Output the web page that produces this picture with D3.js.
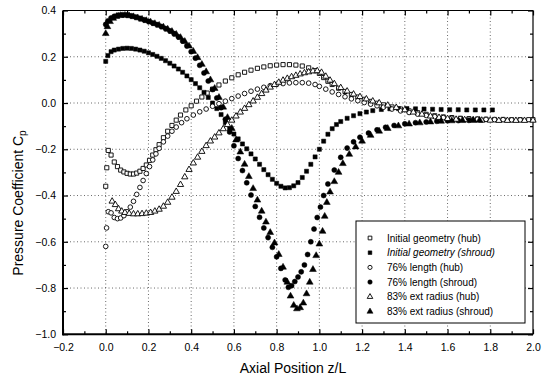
<!DOCTYPE html>
<html>
<head>
<meta charset="utf-8">
<script src="https://cdn.jsdelivr.net/npm/d3@7"></script>
<style>
  body { margin: 0; background: #fff; }
  svg { display: block; font-family: 'Liberation Sans', Arial, sans-serif; }
</style>
</head>
<body>
<div id="chart"></div>
<script>
// values: [z/L, Cp]
const hubInitial = [
  [0.000,-0.36],[0.005,-0.28],[0.012,-0.205],[0.025,-0.225],[0.040,-0.255],[0.055,-0.275],
  [0.070,-0.290],[0.085,-0.298],[0.100,-0.304],[0.115,-0.307],[0.130,-0.307],[0.145,-0.303],
  [0.160,-0.295],[0.175,-0.283],[0.190,-0.268],[0.205,-0.248],[0.220,-0.225],[0.235,-0.202],
  [0.250,-0.180],[0.270,-0.150],[0.290,-0.122],[0.310,-0.097],[0.330,-0.074],[0.350,-0.052],
  [0.375,-0.030],[0.400,-0.012],[0.425,0.008],[0.450,0.026],[0.475,0.043],[0.500,0.060],
  [0.530,0.078],[0.560,0.095],[0.590,0.109],[0.620,0.122],[0.650,0.133],[0.680,0.142],
  [0.710,0.150],[0.740,0.156],[0.770,0.161],[0.800,0.164],[0.830,0.166],[0.860,0.166],
  [0.890,0.164],[0.920,0.160],[0.950,0.152],[0.980,0.140],[1.000,0.128],[1.020,0.110],
  [1.040,0.094],[1.060,0.080],[1.090,0.064],[1.120,0.050],[1.150,0.037],[1.180,0.026],
  [1.210,0.016],[1.240,0.007],[1.270,-0.001],[1.300,-0.008],[1.340,-0.017],[1.380,-0.026],
  [1.420,-0.034],[1.460,-0.042],[1.500,-0.049],[1.540,-0.055],[1.580,-0.060],[1.620,-0.063],
  [1.660,-0.066],[1.700,-0.068],[1.740,-0.069],[1.780,-0.070],[1.820,-0.071],[1.860,-0.071],
  [1.900,-0.072],[1.940,-0.072],[1.980,-0.072],[2.000,-0.072]
];
const shroudInitial = [
  [0.000,0.180],[0.010,0.205],[0.025,0.222],[0.040,0.229],[0.060,0.233],[0.080,0.236],
  [0.100,0.237],[0.120,0.236],[0.140,0.233],[0.160,0.229],[0.180,0.224],[0.200,0.217],
  [0.220,0.210],[0.240,0.202],[0.260,0.193],[0.280,0.183],[0.300,0.172],[0.320,0.160],
  [0.340,0.147],[0.360,0.133],[0.380,0.117],[0.400,0.101],[0.420,0.084],[0.440,0.066],
  [0.460,0.046],[0.480,0.024],[0.500,0.000],[0.520,-0.024],[0.540,-0.050],[0.560,-0.085],
  [0.580,-0.112],[0.600,-0.134],[0.620,-0.155],[0.640,-0.177],[0.660,-0.198],[0.680,-0.220],
  [0.700,-0.242],[0.720,-0.265],[0.740,-0.288],[0.760,-0.310],[0.780,-0.330],[0.800,-0.347],
  [0.820,-0.360],[0.840,-0.367],[0.860,-0.366],[0.880,-0.358],[0.900,-0.344],[0.920,-0.322],
  [0.940,-0.295],[0.960,-0.265],[0.980,-0.233],[1.000,-0.200],[1.020,-0.165],[1.040,-0.135],
  [1.060,-0.111],[1.080,-0.093],[1.100,-0.080],[1.130,-0.066],[1.160,-0.055],[1.190,-0.046],
  [1.220,-0.039],[1.250,-0.033],[1.290,-0.028],[1.330,-0.025],[1.370,-0.024],[1.410,-0.024],
  [1.450,-0.025],[1.490,-0.026],[1.530,-0.027],[1.570,-0.028],[1.610,-0.029],[1.650,-0.029],
  [1.690,-0.030],[1.730,-0.030],[1.770,-0.030],[1.810,-0.030]
];
const hub76 = [
  [0.000,-0.62],[0.004,-0.54],[0.012,-0.47],[0.025,-0.475],[0.040,-0.495],[0.055,-0.500],
  [0.070,-0.497],[0.085,-0.487],[0.100,-0.470],[0.115,-0.450],[0.130,-0.425],[0.145,-0.395],
  [0.160,-0.365],[0.175,-0.335],[0.190,-0.305],[0.205,-0.275],[0.220,-0.246],[0.235,-0.220],
  [0.250,-0.196],[0.270,-0.168],[0.290,-0.143],[0.310,-0.122],[0.330,-0.104],[0.355,-0.085],
  [0.380,-0.068],[0.410,-0.052],[0.440,-0.038],[0.470,-0.026],[0.500,-0.014],[0.530,-0.003],
  [0.560,0.008],[0.590,0.019],[0.620,0.030],[0.650,0.041],[0.680,0.051],[0.710,0.060],
  [0.740,0.068],[0.770,0.075],[0.800,0.080],[0.830,0.084],[0.860,0.087],[0.890,0.088],
  [0.920,0.088],[0.950,0.086],[0.980,0.080],[1.000,0.072],[1.030,0.060],[1.060,0.048],
  [1.090,0.037],[1.120,0.027],[1.150,0.018],[1.180,0.010],[1.210,0.002],[1.240,-0.005],
  [1.270,-0.012],[1.300,-0.018],[1.340,-0.026],[1.380,-0.034],[1.420,-0.041],[1.460,-0.048],
  [1.500,-0.054],[1.540,-0.059],[1.580,-0.063],[1.620,-0.066],[1.660,-0.068],[1.700,-0.069],
  [1.740,-0.070],[1.780,-0.071],[1.820,-0.072],[1.860,-0.072],[1.900,-0.073],[1.940,-0.073]
];
const shroud76 = [
  [0.000,0.340],[0.010,0.355],[0.025,0.368],[0.040,0.375],[0.060,0.380],[0.080,0.382],
  [0.100,0.381],[0.120,0.377],[0.140,0.372],[0.160,0.366],[0.180,0.360],[0.200,0.353],
  [0.220,0.346],[0.240,0.339],[0.260,0.331],[0.280,0.322],[0.300,0.312],[0.320,0.300],
  [0.340,0.286],[0.360,0.268],[0.380,0.247],[0.400,0.222],[0.420,0.194],[0.440,0.163],
  [0.460,0.130],[0.480,0.095],[0.500,0.058],[0.520,0.022],[0.540,-0.020],[0.560,-0.070],
  [0.580,-0.125],[0.600,-0.185],[0.620,-0.240],[0.640,-0.292],[0.660,-0.345],[0.680,-0.398],
  [0.700,-0.447],[0.720,-0.494],[0.740,-0.540],[0.760,-0.582],[0.780,-0.624],[0.800,-0.665],
  [0.820,-0.715],[0.840,-0.765],[0.855,-0.797],[0.870,-0.790],[0.885,-0.772],[0.900,-0.752],
  [0.915,-0.730],[0.930,-0.700],[0.945,-0.655],[0.960,-0.600],[0.975,-0.545],[0.990,-0.495],
  [1.005,-0.450],[1.020,-0.400],[1.040,-0.350],[1.070,-0.290],[1.100,-0.235],[1.130,-0.195],
  [1.160,-0.168],[1.190,-0.148],[1.230,-0.130],[1.270,-0.116],[1.310,-0.105],[1.350,-0.097],
  [1.400,-0.090],[1.450,-0.085],[1.500,-0.082],[1.550,-0.079],[1.600,-0.077],[1.650,-0.076],
  [1.700,-0.075]
];
const hub83 = [
  [0.030,-0.425],[0.045,-0.440],[0.060,-0.458],[0.075,-0.468],[0.090,-0.474],[0.110,-0.478],
  [0.130,-0.480],[0.150,-0.480],[0.170,-0.479],[0.190,-0.477],[0.210,-0.474],[0.230,-0.468],
  [0.250,-0.460],[0.270,-0.447],[0.290,-0.430],[0.310,-0.408],[0.330,-0.383],[0.350,-0.353],
  [0.370,-0.320],[0.390,-0.288],[0.410,-0.260],[0.430,-0.235],[0.450,-0.210],[0.470,-0.185],
  [0.490,-0.165],[0.510,-0.148],[0.530,-0.130],[0.550,-0.112],[0.570,-0.094],[0.590,-0.075],
  [0.610,-0.057],[0.630,-0.040],[0.650,-0.024],[0.670,-0.008],[0.690,0.008],[0.710,0.024],
  [0.730,0.040],[0.750,0.055],[0.770,0.068],[0.790,0.079],[0.810,0.089],[0.830,0.098],
  [0.850,0.106],[0.870,0.113],[0.890,0.119],[0.910,0.125],[0.930,0.130],[0.950,0.134],
  [0.970,0.138],[0.990,0.139],[1.010,0.132],[1.030,0.115],[1.050,0.098],[1.070,0.083],
  [1.100,0.066],[1.130,0.051],[1.160,0.038],[1.190,0.027],[1.220,0.017],[1.250,0.008],
  [1.280,0.000],[1.320,-0.010],[1.360,-0.020],[1.400,-0.030],[1.440,-0.040],[1.480,-0.049],
  [1.520,-0.057],[1.560,-0.063],[1.600,-0.068],[1.640,-0.071],[1.680,-0.073],[1.720,-0.074],
  [1.760,-0.075],[1.800,-0.075],[1.840,-0.076],[1.880,-0.076],[1.920,-0.076],[1.960,-0.076],
  [2.000,-0.075]
];
const shroud83 = [
  [0.000,0.300],[0.008,0.330],[0.020,0.352],[0.035,0.366],[0.050,0.374],[0.070,0.378],
  [0.090,0.379],[0.110,0.377],[0.130,0.373],[0.150,0.368],[0.170,0.362],[0.190,0.356],
  [0.210,0.350],[0.230,0.343],[0.250,0.336],[0.270,0.328],[0.290,0.319],[0.310,0.309],
  [0.330,0.297],[0.350,0.283],[0.370,0.266],[0.390,0.246],[0.410,0.223],[0.430,0.196],
  [0.450,0.167],[0.470,0.135],[0.490,0.100],[0.510,0.063],[0.530,0.024],[0.550,-0.018],
  [0.570,-0.063],[0.590,-0.110],[0.610,-0.160],[0.630,-0.212],[0.650,-0.265],[0.670,-0.318],
  [0.690,-0.370],[0.710,-0.420],[0.730,-0.468],[0.750,-0.515],[0.770,-0.560],[0.790,-0.605],
  [0.810,-0.655],[0.830,-0.710],[0.850,-0.775],[0.865,-0.835],[0.880,-0.875],[0.895,-0.890],
  [0.910,-0.885],[0.925,-0.865],[0.940,-0.825],[0.955,-0.775],[0.970,-0.720],[0.985,-0.660],
  [1.000,-0.610],[1.015,-0.555],[1.025,-0.490],[1.035,-0.430],[1.050,-0.385],[1.070,-0.340],
  [1.090,-0.300],[1.110,-0.262],[1.140,-0.222],[1.170,-0.190],[1.200,-0.165],[1.240,-0.140],
  [1.280,-0.122],[1.320,-0.110],[1.370,-0.099],[1.420,-0.091],[1.470,-0.086],[1.520,-0.082],
  [1.570,-0.079],[1.620,-0.077],[1.670,-0.076],[1.720,-0.075],[1.750,-0.075]
];

const seriesNames = [
  'Initial geometry (hub)', 'Initial geometry (shroud)',
  '76% length (hub)', '76% length (shroud)',
  '83% ext radius (hub)', '83% ext radius (shroud)'
];
const xTicks = [-0.2, 0.0, 0.2, 0.4, 0.6, 0.8, 1.0, 1.2, 1.4, 1.6, 1.8, 2.0];
const yTicks = [0.4, 0.2, 0.0, -0.2, -0.4, -0.6, -0.8, -1.0];

const series = [
  { name: seriesNames[0], data: hubInitial, shape: d3.symbolSquare, open: true, size: 17 },
  { name: seriesNames[1], data: shroudInitial, shape: d3.symbolSquare, open: false, size: 17 },
  { name: seriesNames[2], data: hub76, shape: d3.symbolCircle, open: true, size: 17 },
  { name: seriesNames[3], data: shroud76, shape: d3.symbolCircle, open: false, size: 20 },
  { name: seriesNames[4], data: hub83, shape: d3.symbolTriangle, open: true, size: 17 },
  { name: seriesNames[5], data: shroud83, shape: d3.symbolTriangle, open: false, size: 20 }
];

const W = 551, H = 380;
const x = d3.scaleLinear().domain([-0.2, 2.0]).range([63, 533]);
const y = d3.scaleLinear().domain([-1.0, 0.4]).range([334.3, 10.5]);

const svg = d3.select('#chart').append('svg')
  .attr('width', W).attr('height', H);

// dotted grid at the major ticks
svg.append('g').selectAll('line')
  .data(xTicks.slice(1, -1)).enter().append('line')
  .attr('x1', (d) => x(d)).attr('x2', (d) => x(d))
  .attr('y1', y(0.4)).attr('y2', y(-1.0))
  .attr('stroke', '#444').attr('stroke-width', 0.8)
  .attr('stroke-dasharray', '1,2.5');
svg.append('g').selectAll('line')
  .data(yTicks.slice(1, -1)).enter().append('line')
  .attr('x1', x(-0.2)).attr('x2', x(2.0))
  .attr('y1', (d) => y(d)).attr('y2', (d) => y(d))
  .attr('stroke', '#444').attr('stroke-width', 0.8)
  .attr('stroke-dasharray', '1,2.5');

// axes: ticks inward on all four sides
const fmt = d3.format('.1f');
const minorX = d3.range(-0.1, 2.0, 0.2);
const minorY = d3.range(-0.9, 0.4, 0.2);

function styleAxis(g) {
  g.select('.domain').remove();
  g.selectAll('line').attr('stroke', '#000').attr('stroke-width', 1.2);
}

svg.append('g').attr('transform', 'translate(0,' + y(-1.0) + ')')
  .call(d3.axisBottom(x).tickValues(xTicks).tickFormat((d) => fmt(d)).tickSizeInner(-5).tickPadding(9))
  .call(styleAxis)
  .call((g) => g.selectAll('text').attr('font-size', 10.5).attr('fill', '#000'));
svg.append('g').attr('transform', 'translate(0,' + y(-1.0) + ')')
  .call(d3.axisBottom(x).tickValues(minorX).tickFormat('').tickSizeInner(-3))
  .call(styleAxis);

svg.append('g').attr('transform', 'translate(' + x(-0.2) + ',0)')
  .call(d3.axisLeft(y).tickValues(yTicks).tickFormat((d) => fmt(d)).tickSizeInner(-5).tickPadding(7))
  .call(styleAxis)
  .call((g) => g.selectAll('text').attr('font-size', 10.5).attr('fill', '#000'));
svg.append('g').attr('transform', 'translate(' + x(-0.2) + ',0)')
  .call(d3.axisLeft(y).tickValues(minorY).tickFormat('').tickSizeInner(-3))
  .call(styleAxis);

svg.append('g').attr('transform', 'translate(0,' + y(0.4) + ')')
  .call(d3.axisTop(x).tickValues(xTicks).tickFormat('').tickSizeInner(-5))
  .call(styleAxis);
svg.append('g').attr('transform', 'translate(0,' + y(0.4) + ')')
  .call(d3.axisTop(x).tickValues(minorX).tickFormat('').tickSizeInner(-3))
  .call(styleAxis);
svg.append('g').attr('transform', 'translate(' + x(2.0) + ',0)')
  .call(d3.axisRight(y).tickValues(yTicks).tickFormat('').tickSizeInner(-5))
  .call(styleAxis);
svg.append('g').attr('transform', 'translate(' + x(2.0) + ',0)')
  .call(d3.axisRight(y).tickValues(minorY).tickFormat('').tickSizeInner(-3))
  .call(styleAxis);

// frame
svg.append('line').attr('x1', x(-0.2)).attr('x2', x(2.0)).attr('y1', y(0.4)).attr('y2', y(0.4))
  .attr('stroke', '#000').attr('stroke-width', 1);
svg.append('line').attr('x1', x(2.0)).attr('x2', x(2.0)).attr('y1', y(0.4)).attr('y2', y(-1.0))
  .attr('stroke', '#000').attr('stroke-width', 1.2);
svg.append('line').attr('x1', x(-0.2)).attr('x2', x(-0.2)).attr('y1', y(0.4)).attr('y2', y(-1.0) + 1)
  .attr('stroke', '#000').attr('stroke-width', 2);
svg.append('line').attr('x1', x(-0.2) - 1).attr('x2', x(2.0)).attr('y1', y(-1.0)).attr('y2', y(-1.0))
  .attr('stroke', '#000').attr('stroke-width', 2);

// markers
series.forEach((s) => {
  const sym = d3.symbol().type(s.shape).size(s.size);
  svg.append('g').selectAll('path')
    .data(s.data).enter().append('path')
    .attr('transform', (d) => 'translate(' + x(d[0]) + ',' + y(d[1]) + ')')
    .attr('d', sym)
    .attr('fill', s.open ? '#fff' : '#000')
    .attr('stroke', '#000')
    .attr('stroke-width', s.open ? 0.9 : 0.5);
});

// legend
const lg = svg.append('g');
lg.append('rect').attr('x', 356).attr('y', 221).attr('width', 169).attr('height', 102)
  .attr('fill', '#fff').attr('stroke', '#000').attr('stroke-width', 1);
series.forEach((s, i) => {
  const cy = 238 + i * 14.7;
  lg.append('path')
    .attr('transform', 'translate(370,' + cy + ')')
    .attr('d', d3.symbol().type(s.shape).size(s.size * 0.8))
    .attr('fill', s.open ? '#fff' : '#000')
    .attr('stroke', '#000').attr('stroke-width', s.open ? 0.9 : 0.5);
  lg.append('text').attr('x', 387).attr('y', cy + 3.6)
    .attr('font-size', 10).attr('fill', '#000')
    .attr('font-style', i === 1 ? 'italic' : 'normal')
    .text(s.name);
});

// axis titles
svg.append('text').attr('x', 293).attr('y', 373)
  .attr('text-anchor', 'middle').attr('font-size', 14).attr('fill', '#000')
  .text('Axial Position z/L');
const yt = svg.append('text')
  .attr('transform', 'translate(23,203) rotate(-90)')
  .attr('text-anchor', 'middle').attr('font-size', 14).attr('fill', '#000');
yt.append('tspan').text('Pressure Coefficient C');
yt.append('tspan').attr('font-size', 10).attr('dy', 3).text('p');
</script>
</body>
</html>
